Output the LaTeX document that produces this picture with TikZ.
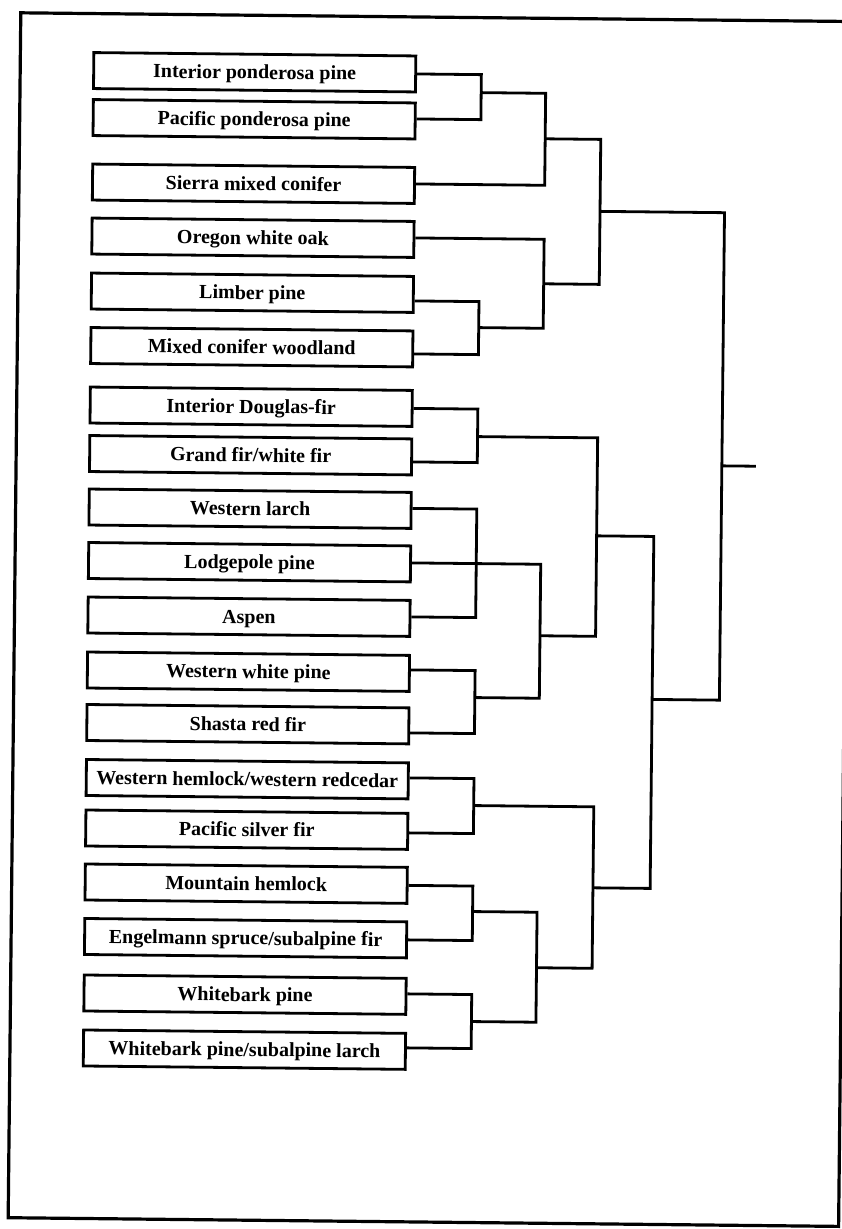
\documentclass[tikz,border=0pt]{standalone}
\usepackage{fontspec}
\setmainfont{Liberation Serif}
\begin{document}
\begin{tikzpicture}[x=1pt,y=-1pt,
  taxon/.style={draw, line width=2.8pt, minimum width=322pt, minimum height=36pt,
    inner sep=0pt, text height=13.2pt, text depth=0pt,
    font=\fontsize{20}{22}\selectfont\bfseries},
  link/.style={line width=2.8pt, line join=miter},
  frameline/.style={line width=3.2pt}]
\fill[white] (0,0) rectangle (842,1229);
\useasboundingbox (0,0) rectangle (842,1229);
\clip (0,0) rectangle (842,1229);
\begin{scope}[transform canvas={rotate around={-0.6:(421,614)}}]
  % outer frame
  \draw[frameline] (14.5,17) rectangle (845,1222);

  % forest types
  \node[taxon] (b1)  at (249,74)     {Interior ponderosa pine};
  \node[taxon] (b2)  at (249,121)    {Pacific ponderosa pine};
  \node[taxon] (b3)  at (249,185.5)  {Sierra mixed conifer};
  \node[taxon] (b4)  at (249,239.5)  {Oregon white oak};
  \node[taxon] (b5)  at (249,294.5)  {Limber pine};
  \node[taxon] (b6)  at (249,349)    {Mixed conifer woodland};
  \node[taxon] (b7)  at (249,408.5)  {Interior Douglas-fir};
  \node[taxon] (b8)  at (249,457)    {Grand fir/white fir};
  \node[taxon] (b9)  at (249,510.5)  {Western larch};
  \node[taxon] (b10) at (249,564)    {Lodgepole pine};
  \node[taxon] (b11) at (249,618.5)  {Aspen};
  \node[taxon] (b12) at (249,673.5)  {Western white pine};
  \node[taxon] (b13) at (249,726)    {Shasta red fir};
  \node[taxon] (b14) at (249,781)    {Western hemlock/western redcedar};
  \node[taxon] (b15) at (249,831.5)  {Pacific silver fir};
  \node[taxon] (b16) at (249,885.5)  {Mountain hemlock};
  \node[taxon] (b17) at (249,940)    {Engelmann spruce/subalpine fir};
  \node[taxon] (b18) at (249,996.5)  {Whitebark pine};
  \node[taxon] (b19) at (249,1051.5) {Whitebark pine/subalpine larch};

  % exit points of the branches on the right side of each box
  \coordinate (o1)  at (b1.east);
  \coordinate (o2)  at ([yshift=2pt]b2.east);
  \coordinate (o3)  at ([yshift=1.5pt]b3.east);
  \coordinate (o4)  at ([yshift=1.5pt]b4.east);
  \coordinate (o5)  at ([yshift=-6.5pt]b5.east);
  \coordinate (o6)  at ([yshift=-5pt]b6.east);
  \coordinate (o7)  at (b7.east);
  \coordinate (o8)  at ([yshift=-5pt]b8.east);
  \coordinate (o9)  at ([yshift=2pt]b9.east);
  \coordinate (o10) at ([yshift=1pt]b10.east);
  \coordinate (o11) at ([yshift=1.5pt]b11.east);
  \coordinate (o12) at ([yshift=3.5pt]b12.east);
  \coordinate (o13) at ([yshift=-7pt]b13.east);
  \coordinate (o14) at ([yshift=3pt]b14.east);
  \coordinate (o15) at ([yshift=-1.5pt]b15.east);
  \coordinate (o16) at (b16.east);
  \coordinate (o17) at (b17.east);
  \coordinate (o18) at ([yshift=2.5pt]b18.east);
  \coordinate (o19) at ([yshift=3.5pt]b19.east);

  % junctions of the dendrogram
  \coordinate (j1)  at (475.7,92);
  \coordinate (j2)  at (540.2,137.5);
  \coordinate (j3)  at (475.7,327);
  \coordinate (j4)  at (540.2,282.5);
  \coordinate (j5)  at (595.8,209.5);
  \coordinate (j6)  at (475.7,436);
  \coordinate (j7)  at (475.7,563);
  \coordinate (j8)  at (475.7,697);
  \coordinate (j9)  at (540.2,634.5);
  \coordinate (j10) at (595.8,534);
  \coordinate (j11) at (475.7,805);
  \coordinate (j12) at (475.7,911);
  \coordinate (j13) at (475.7,1021);
  \coordinate (j14) at (540.2,966.5);
  \coordinate (j15) at (595.8,886);
  \coordinate (j16) at (653,697);
  \coordinate (root) at (720.3,462.7);
  \coordinate (stub) at (754.4,462.7);

  % upper group
  \draw[link] (o1) -| (j1) |- (o2);
  \draw[link] (j1) -| (j2) |- (o3);
  \draw[link] (o5) -| (j3) |- (o6);
  \draw[link] (j3) -| (j4) |- (o4);
  \draw[link] (j2) -| (j5) |- (j4);

  % lower group
  \draw[link] (o7) -| (j6) |- (o8);
  \draw[link] (o9) -| (j7) |- (o11);
  \draw[link] (o10) -| (j9) |- (j8);
  \draw[link] (o12) -| (j8) |- (o13);
  \draw[link] (j6) -| (j10) |- (j9);
  \draw[link] (o14) -| (j11) |- (o15);
  \draw[link] (o16) -| (j12) |- (o17);
  \draw[link] (o18) -| (j13) |- (o19);
  \draw[link] (j12) -| (j14) |- (j13);
  \draw[link] (j11) -| (j15) |- (j14);
  \draw[link] (j10) -| (j16) |- (j15);

  % root
  \draw[link] (j5) -| (root) |- (j16);
  \draw[link] (root) -- (stub);
\end{scope}
\end{tikzpicture}
\end{document}
